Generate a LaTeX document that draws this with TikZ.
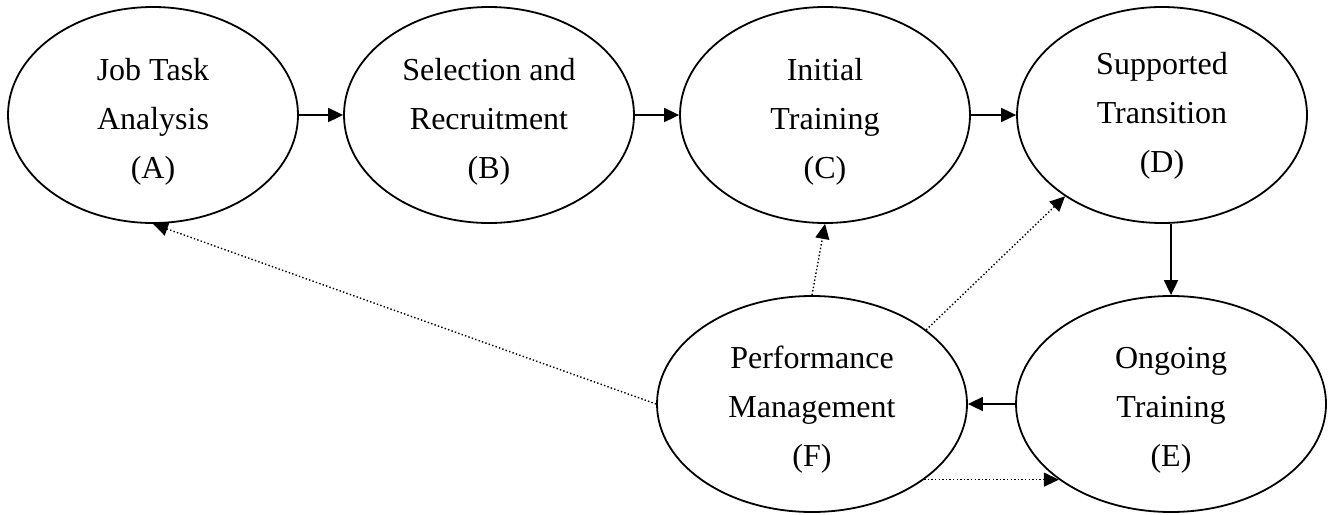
\documentclass[tikz,border=0pt]{standalone}
\usepackage{fontspec}
\setmainfont{Liberation Serif}
\usetikzlibrary{shapes.geometric,arrows.meta}
\begin{document}
\begin{tikzpicture}[x=1pt,y=-1pt,
  stage/.style={ellipse,draw,line width=1.8pt,inner sep=0pt,minimum height=216pt},
  topstage/.style={stage,minimum width=290pt},
  lowstage/.style={stage,minimum width=310pt},
  stagetext/.style={inner sep=0pt,align=center,font=\fontsize{32}{49}\selectfont},
  arr/.style={line width=1.8pt,-{Triangle[length=15pt,width=14pt]}},
  dotarr/.style={line width=1.4pt,dash pattern=on 1.4pt off 2.2pt,-{Triangle[length=15pt,width=14pt]}}]
\useasboundingbox (0,0) rectangle (1340,514);
\node[topstage] (A) at (153,115) {};
\node[topstage] (B) at (489,115) {};
\node[topstage] (C) at (825,115) {};
\node[topstage] (D) at (1162,115) {};
\node[lowstage] (F) at (812,404) {};
\node[lowstage] (E) at (1171,404) {};
\node[stagetext] (At) at (153,122) {Job Task\\Analysis\\(A)};
\node[stagetext] (Bt) at (489,122) {Selection and\\Recruitment\\(B)};
\node[stagetext] (Ct) at (825,122) {Initial\\Training\\(C)};
\node[stagetext] (Dt) at (1162,116) {Supported\\Transition\\(D)};
\node[stagetext] (Ft) at (812,410) {Performance\\Management\\(F)};
\node[stagetext] (Et) at (1171,410) {Ongoing\\Training\\(E)};
\draw[arr] (A) -- (B);
\draw[arr] (B) -- (C);
\draw[arr] (C) -- (D);
\draw[arr] (D.south -| E.north) -- (E.north);
\draw[arr] (E) -- (F);
\draw[dotarr] (F.-34.6) -- (E.214.6);
\draw[dotarr] (F.north) -- (C.south);
\draw[dotarr] (F.33.2) -- (D.220.2);
\draw[dotarr] (F.west) -- (A.south);
\end{tikzpicture}
\end{document}
